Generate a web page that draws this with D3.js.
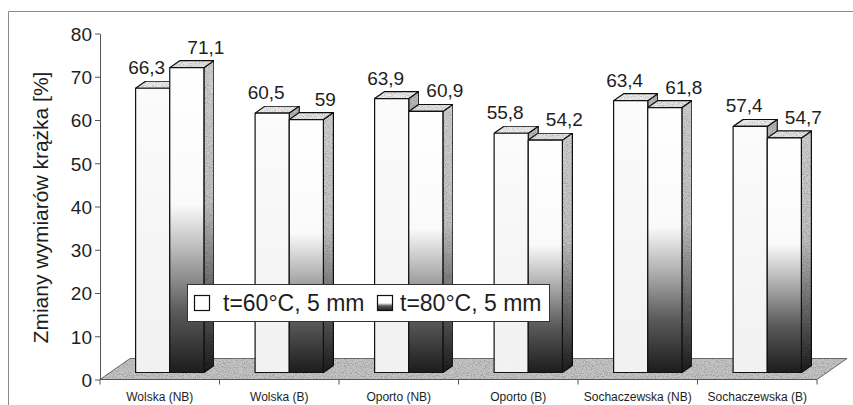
<!DOCTYPE html>
<html>
<head>
<meta charset="utf-8">
<script src="https://cdn.jsdelivr.net/npm/d3@7"></script>
<style>
  html, body { margin: 0; padding: 0; background: #fff; }
  svg { display: block; font-family: "Liberation Sans", Arial, Helvetica, sans-serif; }
</style>
</head>
<body>
<svg id="chart" width="853" height="405"></svg>
<script>
// Categories and the two measured series
const categories = ["Wolska (NB)", "Wolska (B)", "Oporto (NB)", "Oporto (B)", "Sochaczewska (NB)", "Sochaczewska (B)"];
const series60 = [66.3, 60.5, 63.9, 55.8, 63.4, 57.4];
const series80 = [71.1, 59, 60.9, 54.2, 61.8, 54.7];
const seriesNames = ["t=60°C, 5 mm", "t=80°C, 5 mm"];
const yTicks = [0, 10, 20, 30, 40, 50, 60, 70, 80];
const yTitle = "Zmiany wymiarów krążka [%]";

const svg = d3.select("#chart");
const W = 853, H = 405;

// Plot frame (front plane of the floor) and depth vector of the 3D floor
const plotLeft = 100, plotRight = 817, plotBase = 379.5, plotTop = 33.5;
const depth = { dx: 30, dy: -21 };
const barDepth = { dx: depth.dx / 3, dy: depth.dy / 3 };   // bars occupy the middle third

const x = d3.scaleBand().domain(categories).range([plotLeft, plotRight]).paddingInner(0).paddingOuter(0);
const xs = d3.scaleBand().domain([0, 1]).range([0, x.bandwidth()]).paddingInner(0).paddingOuter(0.75);
const y = d3.scaleLinear().domain([0, 80]).range([plotBase, plotTop]);
// heights of the bar front faces (front plane sits one third into the floor)
const yBar = d3.scaleLinear().domain([0, 80]).range([plotBase + barDepth.dy, plotBase + barDepth.dy - 343]);

const fmt = v => String(v).replace(".", ",");

// ---------- defs: gradients and grain ----------
const defs = svg.append("defs");
function grad(id, stops) {
  const g = defs.append("linearGradient").attr("id", id)
    .attr("x1", 0).attr("y1", 0).attr("x2", 0).attr("y2", 1);
  stops.forEach(([o, c]) => g.append("stop").attr("offset", o).attr("stop-color", c));
}
grad("g80front", [[0, "#ffffff"], [0.45, "#fafafa"], [0.6, "#b8b8b8"], [0.8, "#5a5a5a"], [1, "#1c1c1c"]]);
grad("g80side", [[0, "#d2d2d2"], [0.45, "#c4c4c4"], [0.68, "#7a7a7a"], [1, "#1c1c1c"]]);
grad("g60front", [[0, "#fbfbfb"], [1, "#f1f1f1"]]);
grad("gLegend80", [[0, "#ffffff"], [0.5, "#ffffff"], [0.7, "#555"], [1, "#222"]]);

// speckled grain used on the floor and the shaded faces
const grain = defs.append("filter").attr("id", "grain").attr("x", 0).attr("y", 0).attr("width", 1).attr("height", 1);
grain.append("feTurbulence").attr("type", "fractalNoise").attr("baseFrequency", 0.9).attr("numOctaves", 2).attr("seed", 7).attr("result", "n");
grain.append("feColorMatrix").attr("in", "n").attr("type", "matrix")
  .attr("values", "0 0 0 0 0  0 0 0 0 0  0 0 0 0 0  2.6 0 0 0 -1.05").attr("result", "dots");
grain.append("feComposite").attr("in", "dots").attr("in2", "SourceGraphic").attr("operator", "in").attr("result", "d2");
grain.append("feComponentTransfer").attr("in", "d2").attr("result", "d3")
  .append("feFuncA").attr("type", "linear").attr("slope", 0.45);
const gm = grain.append("feMerge");
gm.append("feMergeNode").attr("in", "SourceGraphic");
gm.append("feMergeNode").attr("in", "d3");

// ---------- outer frame ----------
svg.append("path")
  .attr("d", `M8.5,${H} L8.5,11.5 L${W},11.5`)
  .attr("fill", "none").attr("stroke", "#8a8a8a").attr("stroke-width", 1);

// ---------- floor ----------
const floorPts = [[plotLeft, plotBase], [plotRight, plotBase], [plotRight + depth.dx, plotBase + depth.dy], [plotLeft + depth.dx, plotBase + depth.dy]];
svg.append("polygon")
  .attr("points", floorPts.map(p => p.join(",")).join(" "))
  .attr("fill", "#c6c6c6").attr("stroke", "#555").attr("stroke-width", 0.8)
  .attr("filter", "url(#grain)");

// ---------- y axis ----------
const yAxis = svg.append("g").attr("transform", `translate(${plotLeft},0)`)
  .call(d3.axisLeft(y).tickValues(yTicks).tickSize(5).tickSizeOuter(0).tickPadding(3).tickFormat(d3.format("d")));
yAxis.select(".domain").attr("stroke", "#555");
yAxis.selectAll(".tick line").attr("stroke", "#555");
yAxis.selectAll(".tick text").attr("font-size", 19).attr("fill", "#1e1e1e")
  .attr("font-family", "'Liberation Sans', Arial, sans-serif").attr("dy", "0.36em");

svg.append("text")
  .attr("transform", `translate(48,${(70 + 345) / 2}) rotate(-90)`)
  .attr("text-anchor", "middle")
  .attr("font-size", 21).attr("fill", "#1e1e1e")
  .text(yTitle);

// ---------- x axis ----------
const xAxis = svg.append("g").attr("transform", `translate(0,${plotBase})`);
xAxis.append("line").attr("x1", plotLeft).attr("x2", plotRight).attr("y1", 0).attr("y2", 0)
  .attr("stroke", "#555").attr("stroke-width", 1);
const bounds = categories.map(c => x(c)).concat([plotRight]);
xAxis.selectAll("line.tk").data(bounds).join("line").attr("class", "tk")
  .attr("x1", d => d).attr("x2", d => d).attr("y1", 0).attr("y2", 5)
  .attr("stroke", "#555");
xAxis.selectAll("text").data(categories).join("text")
  .attr("x", d => x(d) + x.bandwidth() / 2).attr("y", 21)
  .attr("text-anchor", "middle").attr("font-size", 12).attr("fill", "#1e1e1e")
  .text(d => d);

// ---------- bars ----------
const bars = [];
categories.forEach((c, i) => {
  bars.push({ cat: c, s: 0, v: series60[i] });
  bars.push({ cat: c, s: 1, v: series80[i] });
});

const style = [
  { front: "url(#g60front)", top: "#eeeeee", side: "#bababa" },
  { front: "url(#g80front)", top: "#e6e6e6", side: "url(#g80side)" }
];

const gBars = svg.append("g");
bars.forEach(b => {
  const w = xs.bandwidth();
  const x0 = x(b.cat) + xs(b.s) + barDepth.dx;
  const yb = yBar(0), yt = yBar(b.v);
  const dx = barDepth.dx, dy = barDepth.dy;
  const g = gBars.append("g").attr("stroke", "#111").attr("stroke-width", 1.2).attr("stroke-linejoin", "round");
  // side face
  g.append("polygon")
    .attr("points", [[x0 + w, yt], [x0 + w + dx, yt + dy], [x0 + w + dx, yb + dy], [x0 + w, yb]].map(p => p.join(",")).join(" "))
    .attr("fill", style[b.s].side).attr("filter", "url(#grain)");
  // top face
  g.append("polygon")
    .attr("points", [[x0, yt], [x0 + dx, yt + dy], [x0 + w + dx, yt + dy], [x0 + w, yt]].map(p => p.join(",")).join(" "))
    .attr("fill", style[b.s].top).attr("filter", "url(#grain)");
  // front face
  g.append("rect")
    .attr("x", x0).attr("y", yt).attr("width", w).attr("height", yb - yt)
    .attr("fill", style[b.s].front);
  b.cx = x0 + w / 2;
  b.yt = yt;
});

// ---------- value labels ----------
const labelShift = [-6, 19];
svg.append("g").selectAll("text").data(bars).join("text")
  .attr("x", d => d.cx + labelShift[d.s])
  .attr("y", d => d.yt - 14)
  .attr("text-anchor", "middle")
  .attr("font-size", 19).attr("fill", "#1e1e1e")
  .text(d => fmt(d.v));

// ---------- legend ----------
const lg = svg.append("g").attr("transform", "translate(187,284)");
lg.append("rect").attr("x", 0.5).attr("y", 0.5).attr("width", 362).attr("height", 37)
  .attr("fill", "#fff").attr("stroke", "#333").attr("stroke-width", 1);
const legendItems = [
  { name: seriesNames[0], fill: "#fff", sx: 7, tx: 36 },
  { name: seriesNames[1], fill: "url(#gLegend80)", sx: 190, tx: 213 }
];
legendItems.forEach(it => {
  lg.append("rect").attr("x", it.sx + 0.5).attr("y", 11.5).attr("width", 15).attr("height", 15)
    .attr("fill", it.fill).attr("stroke", "#111").attr("stroke-width", 1.2);
  lg.append("text").attr("x", it.tx).attr("y", 27).attr("font-size", 23).attr("fill", "#1e1e1e").text(it.name);
});
</script>
</body>
</html>
